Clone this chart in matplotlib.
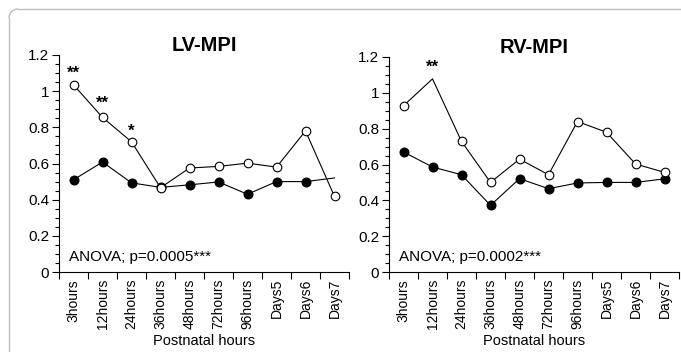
import numpy as np
import matplotlib.pyplot as plt
from matplotlib.lines import Line2D
from matplotlib.patches import Arc
from matplotlib.ticker import MultipleLocator

plt.rcParams['font.family'] = ['Liberation Sans', 'DejaVu Sans']

hours = ['3hours', '12hours', '24hours', '36hours', '48hours', '72hours',
         '96hours', 'Days5', 'Days6', 'Days7']

lv_open = [1.035, 0.855, 0.72, 0.466, 0.575, 0.584, 0.602, 0.58, 0.78, 0.418]
lv_filled = [0.51, 0.608, 0.493, 0.468, 0.482, 0.498, 0.43, 0.50, 0.50, 0.52]
rv_open = [0.928, 1.078, 0.729, 0.50, 0.63, 0.543, 0.84, 0.78, 0.603, 0.556]
rv_filled = [0.67, 0.586, 0.543, 0.372, 0.521, 0.465, 0.497, 0.50, 0.50, 0.52]

# points that carry a marker (others are line vertices only)
lv_open_marks = list(range(10))
lv_filled_marks = list(range(9))
rv_open_marks = [0, 2, 3, 4, 5, 6, 7, 8, 9]
rv_filled_marks = list(range(10))

lv_sig_idx = [0, 1, 2]
lv_sig_txt = ['**', '**', '*']
lv_sig_y = [1.10, 0.935, 0.78]
rv_sig_idx = [1]
rv_sig_txt = ['**']
rv_sig_y = [1.14]

W, H = 681, 352
fig = plt.figure(figsize=(W / 100, H / 100), dpi=100)

# rounded grey panel border (top and left edges only)
r = 9
bx, by = 9, 9
bc = '#bdbdbd'
fig.add_artist(Line2D([(bx + r) / W, 1.0], [1 - by / H, 1 - by / H],
                      transform=fig.transFigure, color=bc, lw=1.0))
fig.add_artist(Line2D([bx / W, bx / W], [1 - (by + r) / H, 0.0],
                      transform=fig.transFigure, color=bc, lw=1.0))
fig.add_artist(Arc(((bx + r) / W, 1 - (by + r) / H), 2 * r / W, 2 * r / H,
                   theta1=90, theta2=180, transform=fig.transFigure,
                   color=bc, lw=1.0))


def panel(rect, title, opn, fil, om, fm, sidx, stxt, sy, anova):
    ax = fig.add_axes(rect)
    x = np.arange(len(hours))
    ax.plot(x, fil, '-', color='black', lw=0.8, marker='o', ms=6.2,
            mfc='black', mec='black', markevery=fm, zorder=3)
    ax.plot(x, opn, '-', color='black', lw=0.8, marker='o', ms=6.2,
            mfc='white', mec='black', mew=0.8, markevery=om, zorder=4)
    for i, t, yy in zip(sidx, stxt, sy):
        ax.text(x[i], yy, t, ha='center', va='center', fontsize=12,
                fontweight='bold')
    ax.text(0.035, 0.035, anova, transform=ax.transAxes, fontsize=11,
            ha='left', va='bottom')
    ax.set_xlim(-0.5, len(hours) - 0.5)
    ax.set_ylim(0, 1.2)
    ax.set_yticks([0, 0.2, 0.4, 0.6, 0.8, 1.0, 1.2])
    ax.set_yticklabels(['0', '0.2', '0.4', '0.6', '0.8', '1', '1.2'])
    ax.yaxis.set_minor_locator(MultipleLocator(0.05))
    ax.set_xticks(np.arange(-0.5, len(hours)), labels=[])
    ax.set_xticks(x, labels=hours, minor=True, rotation=90)
    ax.tick_params(axis='x', which='minor', length=0, pad=5, labelsize=10)
    ax.tick_params(axis='x', which='major', length=5, width=0.8)
    ax.tick_params(axis='y', which='major', length=5, width=0.8,
                   labelsize=11, pad=2)
    ax.tick_params(axis='y', which='minor', length=3, width=0.8)
    for s in ['top', 'right']:
        ax.spines[s].set_visible(False)
    for s in ['left', 'bottom']:
        ax.spines[s].set_linewidth(0.8)
    ax.set_xlabel('Postnatal hours', fontsize=10.5, labelpad=3)
    ax.set_title(title, fontsize=14.5, fontweight='bold', pad=1)
    return ax


panel([59 / W, 80 / H, 290 / W, 217 / H], 'LV-MPI',
      lv_open, lv_filled, lv_open_marks, lv_filled_marks,
      lv_sig_idx, lv_sig_txt, lv_sig_y, 'ANOVA; p=0.0005***')
panel([389 / W, 80 / H, 290 / W, 215 / H], 'RV-MPI',
      rv_open, rv_filled, rv_open_marks, rv_filled_marks,
      rv_sig_idx, rv_sig_txt, rv_sig_y, 'ANOVA; p=0.0002***')

fig.savefig('out.png', dpi=100)
